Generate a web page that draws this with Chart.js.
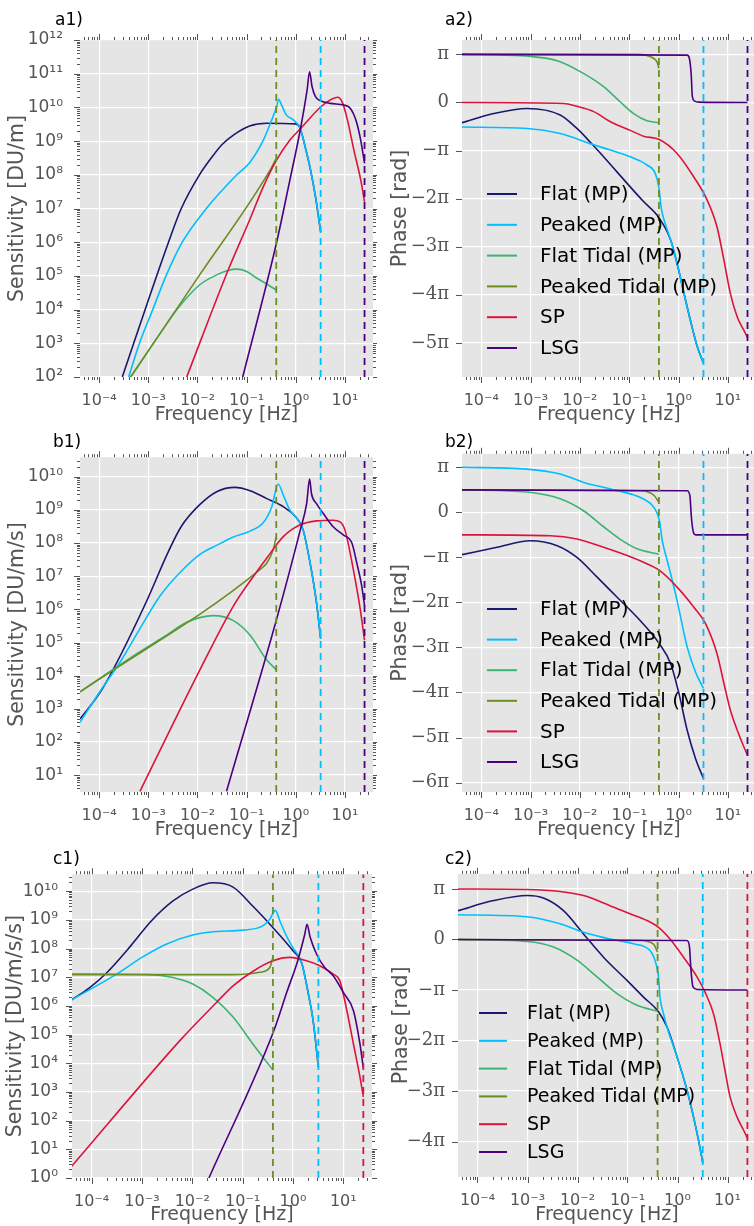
<!DOCTYPE html>
<html>
<head>
<meta charset="utf-8">
<script src="https://cdn.jsdelivr.net/npm/chart.js@4.4.1/dist/chart.umd.min.js"></script>
<style>
  html, body { margin: 0; padding: 0; background: #fff; overflow: hidden; width: 754px; height: 1226px; }
  canvas { position: absolute; }
</style>
</head>
<body>
<canvas id="a1"></canvas><canvas id="a2"></canvas>
<canvas id="b1"></canvas><canvas id="b2"></canvas>
<canvas id="c1"></canvas><canvas id="c2"></canvas>
<script>
// series order as in the legend
const seriesNames = ['Flat (MP)', 'Peaked (MP)', 'Flat Tidal (MP)', 'Peaked Tidal (MP)', 'SP', 'LSG'];
const seriesColors = ['#191970', '#00bfff', '#3cb371', '#6b8e23', '#dc143c', '#4b0082'];

// Nyquist markers [Hz]
const nyquistHz = [0.4, 3.2, 25];
const nyquistColorsAB = ['#6b8e23', '#00bfff', '#4b0082'];
const nyquistColorsC = ['#6b8e23', '#00bfff', '#dc143c'];

// axis ranges (log10 Hz / log10 sensitivity / phase in units of pi)
const freqRangeLog = [-4.39, 1.57];
const freqTicksLog = [-4, -3, -2, -1, 0, 1];
const a1RangeLog = [2, 12];
const b1RangeLog = [0.49, 10.59];
const c1RangeLog = [0, 10.59];
const a2RangePi = [-5.71, 1.30];
const b2RangePi = [-6.21, 1.30];
const c2RangePi = [-4.70, 1.30];

// ---- a1: sensitivity [DU/m], pairs [log10 f, log10 S]
const a1Flat = [[-3.53,2],[-2.59,6],[-2.33,7],[-1.96,8],[-1.72,8.5],[-1.50,8.9],[-1.27,9.18],[-0.94,9.45],[-0.59,9.53],[-0.01,9.51],[0.08,9.41],[0.19,8.83],[0.30,8.14],[0.40,7.35],[0.505,6.31]];
const a1Peaked = [[-3.40,2],[-3.18,3],[-2.91,4],[-2.64,5],[-2.31,6],[-1.82,7],[-1.20,8],[-0.94,8.36],[-0.66,9.03],[-0.49,9.63],[-0.39,10.02],[-0.35,10.24],[-0.29,10.07],[-0.19,9.77],[-0.05,9.63],[0.09,9.38],[0.19,8.83],[0.30,8.14],[0.40,7.35],[0.505,6.31]];
const a1FlatTidal = [[-3.36,2],[-2.70,3.42],[-2.43,3.98],[-1.96,4.73],[-1.61,5.03],[-1.38,5.16],[-1.20,5.20],[-1.00,5.13],[-0.79,4.93],[-0.59,4.76],[-0.398,4.58]];
const a1PeakedTidal = [[-3.36,2],[-1.97,5],[-0.50,8.2],[-0.398,8.49]];
const a1SP = [[-2.22,2],[-1.38,5.16],[-0.94,6.66],[-0.66,7.65],[-0.39,8.44],[-0.12,9.03],[0.12,9.41],[0.51,10.02],[0.70,10.22],[0.85,10.30],[0.94,10.17],[1.05,9.63],[1.18,8.74],[1.32,7.85],[1.398,7.20]];
const a1LSG = [[-1.08,2],[-0.39,6.0],[-0.12,7.85],[0.09,9.33],[0.23,10.52],[0.28,11.06],[0.33,10.62],[0.40,10.32],[0.50,10.20],[0.70,10.12],[0.98,10.07],[1.11,9.97],[1.22,9.63],[1.32,9.03],[1.398,8.34]];

// ---- b1: sensitivity [DU/m/s]
const b1Flat = [[-4.39,2.69],[-3.98,3.5],[-3.71,4.2],[-3.05,6.2],[-2.59,7.75],[-2.33,8.5],[-1.96,9.15],[-1.61,9.55],[-1.24,9.68],[-0.93,9.58],[-0.59,9.34],[-0.25,9.09],[0.05,8.69],[0.15,8.39],[0.29,7.40],[0.42,6.21],[0.505,5.12]];
const b1Peaked = [[-4.39,2.59],[-3.98,3.53],[-3.57,4.42],[-3.17,5.42],[-2.76,6.41],[-2.35,7.12],[-1.95,7.66],[-1.61,7.93],[-1.27,8.18],[-0.93,8.36],[-0.66,8.62],[-0.49,9.09],[-0.36,9.78],[-0.25,9.43],[-0.12,8.99],[0.05,8.69],[0.15,8.39],[0.29,7.40],[0.42,6.21],[0.505,5.12]];
const b1FlatTidal = [[-4.39,3.51],[-3.17,4.72],[-2.63,5.22],[-2.22,5.61],[-1.68,5.81],[-1.27,5.66],[-0.93,5.22],[-0.59,4.47],[-0.398,4.18]];
const b1PeakedTidal = [[-4.39,3.51],[-0.73,7.20],[-0.59,7.40],[-0.46,7.80],[-0.398,8.19]];
const b1SP = [[-3.17,0.51],[-2.00,4.03],[-1.27,6.1],[-0.86,7.0],[-0.59,7.55],[-0.25,8.2],[0.09,8.55],[0.42,8.67],[0.76,8.69],[0.90,8.64],[1.00,8.39],[1.17,7.20],[1.31,6.01],[1.398,5.07]];
const b1LSG = [[-1.41,0.51],[-0.39,5.71],[0.09,8.39],[0.22,9.19],[0.28,9.93],[0.32,9.48],[0.42,9.19],[0.56,8.89],[0.76,8.49],[0.97,8.24],[1.14,8.00],[1.24,7.40],[1.34,6.71],[1.398,6.11]];

// ---- c1: sensitivity [DU/m/s/s]
const c1Flat = [[-4.40,6.21],[-4.05,6.62],[-3.72,7.12],[-3.22,8.10],[-2.82,8.95],[-2.39,9.65],[-1.99,10.07],[-1.59,10.29],[-1.19,10.14],[-0.80,9.48],[-0.40,8.73],[0.00,7.92],[0.17,7.51],[0.30,6.47],[0.40,5.49],[0.505,3.87]];
const c1Peaked = [[-4.40,6.21],[-3.52,7.09],[-3.00,7.69],[-2.52,8.15],[-1.99,8.47],[-1.53,8.59],[-1.00,8.64],[-0.60,8.79],[-0.46,9.02],[-0.35,9.33],[-0.26,8.96],[-0.13,8.44],[0.00,8.03],[0.17,7.51],[0.30,6.47],[0.40,5.49],[0.505,3.87]];
const c1FlatTidal = [[-4.40,7.11],[-2.86,7.09],[-2.39,6.99],[-1.99,6.76],[-1.59,6.30],[-1.19,5.61],[-0.80,4.68],[-0.398,3.76]];
const c1PeakedTidal = [[-4.40,7.09],[-1.19,7.09],[-0.66,7.17],[-0.46,7.34],[-0.398,7.69]];
const c1SP = [[-4.40,0.40],[-2.22,4.84],[-1.53,6.1],[-1.19,6.7],[-0.80,7.2],[-0.40,7.57],[-0.06,7.69],[0.27,7.57],[0.53,7.40],[0.80,7.11],[0.93,6.88],[1.07,5.84],[1.20,4.68],[1.33,3.53],[1.398,2.83]];
const c1LSG = [[-1.67,0],[-0.39,5.09],[-0.12,6.49],[0.09,7.55],[0.23,8.46],[0.28,8.84],[0.34,8.40],[0.47,7.80],[0.63,7.34],[0.80,7.05],[1.00,6.47],[1.20,5.84],[1.33,4.68],[1.398,3.82]];

// ---- a2: phase / pi, pairs [log10 f, phase/pi]
const a2Flat = [[-4.39,-0.42],[-3.75,-0.23],[-3.07,-0.125],[-2.40,-0.26],[-2.06,-0.54],[-1.75,-0.87],[-1.38,-1.29],[-0.98,-1.755],[-0.71,-2.06],[-0.387,-2.41],[-0.16,-2.86],[-0.03,-3.35],[0.11,-3.97],[0.24,-4.53],[0.38,-5.08],[0.505,-5.42]];
const a2Peaked = [[-4.39,-0.51],[-3.07,-0.54],[-2.40,-0.645],[-1.75,-0.87],[-1.38,-0.99],[-0.98,-1.13],[-0.64,-1.30],[-0.47,-1.48],[-0.40,-1.76],[-0.35,-2.20],[-0.27,-2.52],[-0.16,-2.86],[-0.03,-3.35],[0.11,-3.97],[0.24,-4.53],[0.38,-5.08],[0.505,-5.42]];
const a2FlatTidal = [[-4.39,1.0],[-3.01,0.96],[-2.40,0.85],[-1.92,0.60],[-1.52,0.33],[-1.18,0.01],[-0.91,-0.23],[-0.64,-0.38],[-0.398,-0.42]];
const a2PeakedTidal = [[-4.39,1.0],[-0.84,1.0],[-0.50,0.915],[-0.43,0.83],[-0.398,0.71]];
const a2SP = [[-4.39,0],[-2.33,-0.02],[-2.06,-0.08],[-1.72,-0.19],[-1.38,-0.40],[-0.98,-0.58],[-0.71,-0.70],[-0.39,-0.77],[-0.03,-1.06],[0.31,-1.55],[0.58,-2.03],[0.78,-2.59],[0.92,-3.28],[1.05,-3.97],[1.19,-4.46],[1.325,-4.74],[1.398,-4.89]];
const a2LSG = [[-4.39,1.0],[0.175,0.985],[0.22,0.915],[0.255,0.60],[0.28,0.12],[0.32,0.035],[0.41,0.007],[1.398,0]];

// ---- b2
const b2Flat = [[-4.39,-0.94],[-3.68,-0.775],[-3.01,-0.63],[-2.46,-0.74],[-2.06,-1.0],[-1.65,-1.44],[-1.25,-1.88],[-0.84,-2.33],[-0.387,-2.92],[-0.16,-3.36],[0.01,-4.03],[0.175,-4.84],[0.345,-5.47],[0.505,-5.91]];
const b2Peaked = [[-4.39,1.0],[-3.07,0.96],[-2.40,0.85],[-1.92,0.665],[-1.38,0.52],[-0.98,0.41],[-0.71,0.295],[-0.50,0.11],[-0.387,-0.185],[-0.33,-0.63],[-0.23,-1.07],[-0.16,-1.37],[-0.03,-1.96],[0.175,-2.99],[0.345,-3.55],[0.505,-3.91]];
const b2FlatTidal = [[-4.39,0.5],[-3.07,0.45],[-2.40,0.30],[-1.92,0.03],[-1.52,-0.32],[-1.18,-0.60],[-0.84,-0.81],[-0.398,-0.93]];
const b2PeakedTidal = [[-4.39,0.5],[-0.77,0.48],[-0.50,0.38],[-0.398,0.22]];
const b2SP = [[-4.39,-0.5],[-2.60,-0.52],[-2.06,-0.59],[-1.52,-0.775],[-1.04,-0.96],[-0.71,-1.11],[-0.387,-1.29],[-0.03,-1.66],[0.31,-2.105],[0.547,-2.47],[0.78,-3.14],[0.92,-3.80],[1.05,-4.39],[1.19,-4.84],[1.325,-5.21],[1.398,-5.39]];
const b2LSG = [[-4.39,0.5],[0.175,0.48],[0.23,0.37],[0.26,-0.11],[0.30,-0.44],[0.345,-0.50],[1.398,-0.5]];

// ---- c2
const c2Flat = [[-4.39,0.57],[-3.68,0.77],[-3.00,0.87],[-2.68,0.82],[-2.28,0.57],[-1.88,0.11],[-1.48,-0.35],[-1.01,-0.81],[-0.68,-1.14],[-0.38,-1.43],[-0.21,-1.73],[-0.01,-2.32],[0.19,-2.98],[0.32,-3.51],[0.42,-3.97],[0.505,-4.41]];
const c2Peaked = [[-4.39,0.49],[-3.01,0.45],[-2.35,0.31],[-1.88,0.145],[-1.35,0.01],[-0.88,-0.086],[-0.55,-0.22],[-0.43,-0.48],[-0.38,-0.74],[-0.35,-1.14],[-0.28,-1.47],[-0.21,-1.73],[-0.01,-2.32],[0.19,-2.98],[0.32,-3.51],[0.42,-3.97],[0.505,-4.41]];
const c2FlatTidal = [[-4.39,0],[-3.01,-0.04],[-2.48,-0.15],[-2.01,-0.41],[-1.61,-0.74],[-1.21,-1.07],[-0.81,-1.30],[-0.398,-1.42]];
const c2PeakedTidal = [[-4.39,0],[-0.75,-0.02],[-0.48,-0.09],[-0.398,-0.25]];
const c2SP = [[-4.39,1.0],[-3.01,0.99],[-2.35,0.95],[-1.88,0.87],[-1.35,0.67],[-0.95,0.51],[-0.61,0.375],[-0.38,0.24],[-0.15,0.01],[0.12,-0.35],[0.39,-0.74],[0.55,-1.04],[0.72,-1.47],[0.85,-2.06],[0.95,-2.59],[1.05,-3.11],[1.19,-3.51],[1.32,-3.77],[1.398,-3.93]];
const c2LSG = [[-4.39,0],[0.19,-0.02],[0.24,-0.15],[0.27,-0.61],[0.31,-0.94],[0.39,-0.99],[1.398,-1.0]];

const SUP = {'-':'\u207b','0':'\u2070','1':'\u00b9','2':'\u00b2','3':'\u00b3','4':'\u2074','5':'\u2075','6':'\u2076','7':'\u2077','8':'\u2078','9':'\u2079'};
function pow10Label(e) { return '10' + String(e).split('').map(ch => SUP[ch]).join(''); }
function piLabel(n) {
  if (n === 0) return '0';
  let s = n < 0 ? '\u2212' : '';
  if (Math.abs(n) !== 1) s += Math.abs(n);
  return s + '\u03c0';
}

Chart.defaults.font.family = '"DejaVu Sans", sans-serif';
const GREY = '#555555';

const bgPlugin = {
  id: 'bg',
  beforeDraw(chart) {
    const a = chart.chartArea, c = chart.ctx;
    c.save(); c.fillStyle = '#e5e5e5';
    c.fillRect(a.left, a.top, a.right - a.left, a.bottom - a.top);
    c.restore();
  }
};

// outward major + minor tick marks on all four sides
const tickMarkPlugin = {
  id: 'tickMarks',
  afterDraw(chart) {
    const a = chart.chartArea, c = chart.ctx, xs = chart.scales.x, ys = chart.scales.y;
    function marks(scale, isLog) {
      const out = [];
      if (isLog) {
        const lo = Math.floor(Math.log10(scale.min)), hi = Math.ceil(Math.log10(scale.max));
        for (let e = lo; e <= hi; e++) for (let k = 1; k < 10; k++) {
          const v = k * Math.pow(10, e);
          if (v >= scale.min * 0.999 && v <= scale.max * 1.001) out.push([Math.round(scale.getPixelForValue(v)) + 0.5, k === 1 ? 6 : 3]);
        }
      } else {
        for (let n = Math.ceil(scale.min); n <= Math.floor(scale.max); n++) out.push([Math.round(scale.getPixelForValue(n)) + 0.5, 6]);
      }
      return out;
    }
    c.save(); c.strokeStyle = GREY; c.lineWidth = 1; c.beginPath();
    marks(xs, true).forEach(([px, len]) => { c.moveTo(px, a.bottom); c.lineTo(px, a.bottom + len); c.moveTo(px, a.top); c.lineTo(px, a.top - len); });
    marks(ys, ys.type === 'logarithmic').forEach(([py, len]) => { c.moveTo(a.left, py); c.lineTo(a.left - len, py); c.moveTo(a.right, py); c.lineTo(a.right + len, py); });
    c.stroke(); c.restore();
  }
};

const tagPlugin = {
  id: 'tag',
  afterDraw(chart, args, o) {
    const c = chart.ctx;
    c.save(); c.fillStyle = '#000'; c.font = '17px "DejaVu Sans"'; c.textBaseline = 'alphabetic';
    c.fillText(o.text, o.x, o.y); c.restore();
  }
};

const legendPlugin = {
  id: 'inLegend',
  afterDraw(chart, args, o) {
    if (!o.show) return;
    const c = chart.ctx;
    c.save(); c.font = o.size + 'px "DejaVu Sans"'; c.textBaseline = 'middle';
    chart.data.datasets.filter(d => !d.isRef).forEach((d, i) => {
      const y = o.y + i * o.step;
      c.strokeStyle = d.borderColor; c.lineWidth = 2;
      c.beginPath(); c.moveTo(o.x1, y); c.lineTo(o.x2, y); c.stroke();
      c.fillStyle = '#000'; c.fillText(d.label, o.tx, y + 1);
    });
    c.restore();
  }
};

const panels = [
  { id: 'a1', left: 0,   top: 0,   w: 377, h: 430, L: 80,  T: 40,  R: 373, B: 377, logY: true, range: a1RangeLog,
    series: [a1Flat, a1Peaked, a1FlatTidal, a1PeakedTidal, a1SP, a1LSG], nyq: nyquistColorsAB,
    ytitle: 'Sensitivity [DU/m]', yTitlePad: 5.5, yTickPad: 17, tag: 'a1)', tagX: 55, tagY: 25 },
  { id: 'a2', left: 377, top: 0,   w: 383, h: 430, L: 462, T: 40,  R: 756, B: 377, logY: false, range: a2RangePi,
    series: [a2Flat, a2Peaked, a2FlatTidal, a2PeakedTidal, a2SP, a2LSG], nyq: nyquistColorsAB,
    ytitle: 'Phase [rad]', yTitlePad: 11.5, yTickPad: 13, tag: 'a2)', tagX: 445, tagY: 25,
    legend: { x1: 487, x2: 517, tx: 540, y: 194, step: 30.8, size: 20 } },
  { id: 'b1', left: 0,   top: 430, w: 377, h: 420, L: 80,  T: 453, R: 373, B: 792, logY: true, range: b1RangeLog,
    series: [b1Flat, b1Peaked, b1FlatTidal, b1PeakedTidal, b1SP, b1LSG], nyq: nyquistColorsAB,
    ytitle: 'Sensitivity [DU/m/s]', yTitlePad: 5.5, yTickPad: 17, tag: 'b1)', tagX: 53, tagY: 447 },
  { id: 'b2', left: 377, top: 430, w: 383, h: 420, L: 462, T: 453, R: 756, B: 792, logY: false, range: b2RangePi,
    series: [b2Flat, b2Peaked, b2FlatTidal, b2PeakedTidal, b2SP, b2LSG], nyq: nyquistColorsAB,
    ytitle: 'Phase [rad]', yTitlePad: 11.5, yTickPad: 13, tag: 'b2)', tagX: 445, tagY: 447,
    legend: { x1: 487, x2: 517, tx: 540, y: 609, step: 30.6, size: 20 } },
  { id: 'c1', left: 0,   top: 850, w: 377, h: 376, L: 72,  T: 873, R: 372, B: 1178, logY: true, range: c1RangeLog,
    series: [c1Flat, c1Peaked, c1FlatTidal, c1PeakedTidal, c1SP, c1LSG], nyq: nyquistColorsC,
    ytitle: 'Sensitivity [DU/m/s/s]', yTitlePad: 3.5, yTickPad: 14, tag: 'c1)', tagX: 53, tagY: 864 },
  { id: 'c2', left: 377, top: 850, w: 383, h: 376, L: 458, T: 873, R: 756, B: 1177, logY: false, range: c2RangePi,
    series: [c2Flat, c2Peaked, c2FlatTidal, c2PeakedTidal, c2SP, c2LSG], nyq: nyquistColorsC,
    ytitle: 'Phase [rad]', yTitlePad: 12.5, yTickPad: 13, tag: 'c2)', tagX: 445, tagY: 864,
    legend: { x1: 479, x2: 507, tx: 527, y: 1013, step: 27.8, size: 19 } }
];

function makePanel(p) {
  const cv = document.getElementById(p.id);
  cv.width = p.w; cv.height = p.h;
  Object.assign(cv.style, { left: p.left + 'px', top: p.top + 'px', width: p.w + 'px', height: p.h + 'px' });

  const yMin = p.logY ? Math.pow(10, p.range[0]) : p.range[0];
  const yMax = p.logY ? Math.pow(10, p.range[1]) : p.range[1];

  const datasets = p.series.map((s, i) => ({
    label: seriesNames[i],
    data: s.map(q => ({ x: Math.pow(10, q[0]), y: p.logY ? Math.pow(10, q[1]) : q[1] })),
    borderColor: seriesColors[i], borderWidth: 1.6, pointRadius: 0,
    cubicInterpolationMode: 'monotone', order: 20 - i
  }));
  nyquistHz.forEach((f, i) => datasets.push({
    label: 'nyquist', isRef: true,
    data: [{ x: f, y: yMin }, { x: f, y: yMax }],
    borderColor: p.nyq[i], borderWidth: 1.8, borderDash: [7, 5], pointRadius: 0, order: 5 - i
  }));

  const xAxisH = p.top + p.h - p.B;
  const xTitleLH = 19 * 1.2;

  new Chart(cv, {
    type: 'line',
    data: { datasets },
    plugins: [bgPlugin, tickMarkPlugin, tagPlugin, legendPlugin],
    options: {
      responsive: false, animation: false, events: [],
      layout: { padding: { left: 0, top: p.T - p.top, right: p.left + p.w - p.R, bottom: 0 } },
      plugins: {
        legend: { display: false }, tooltip: { enabled: false },
        tag: { text: p.tag, x: p.tagX - p.left, y: p.tagY - p.top },
        inLegend: p.legend ? { show: true, x1: p.legend.x1 - p.left, x2: p.legend.x2 - p.left, tx: p.legend.tx - p.left,
                               y: p.legend.y - p.top, step: p.legend.step, size: p.legend.size } : { show: false }
      },
      scales: {
        x: {
          type: 'logarithmic', bounds: 'data',
          min: Math.pow(10, freqRangeLog[0]), max: Math.pow(10, freqRangeLog[1]),
          afterBuildTicks: s => { s.ticks = freqTicksLog.map(e => ({ value: Math.pow(10, e) })); },
          afterFit: s => { s.height = xAxisH; },
          ticks: { callback: v => pow10Label(Math.round(Math.log10(v))), color: GREY, font: { size: 16 },
                   padding: 14, autoSkip: false, maxRotation: 0 },
          grid: { color: '#ffffff', lineWidth: 1.2, drawTicks: false },
          border: { display: false },
          title: { display: true, text: 'Frequency [Hz]', color: GREY, font: { size: 19 },
                   padding: { top: 0, bottom: Math.max(0, xAxisH - 38 - xTitleLH / 2) } }
        },
        y: {
          type: p.logY ? 'logarithmic' : 'linear', bounds: 'data',
          min: yMin, max: yMax,
          afterBuildTicks: s => {
            const t = [];
            for (let n = Math.ceil(p.range[0] - 1e-6); n <= Math.floor(p.range[1] + 1e-6); n++) t.push({ value: p.logY ? Math.pow(10, n) : n });
            s.ticks = t;
          },
          afterFit: s => { s.width = p.L - p.left; },
          ticks: {
            callback: v => p.logY ? pow10Label(Math.round(Math.log10(v))) : piLabel(Math.round(v)),
            color: GREY, padding: p.yTickPad, autoSkip: false,
            font: p.logY ? { size: 17 } : { size: 18, family: '"DejaVu Serif", serif' }
          },
          grid: { color: '#ffffff', lineWidth: 1.2, drawTicks: false },
          border: { display: false },
          title: { display: true, text: p.ytitle, color: GREY, font: { size: 20.5 },
                   padding: { top: p.yTitlePad, bottom: 0 } }
        }
      }
    }
  });
}

panels.forEach(makePanel);
</script>
</body>
</html>
